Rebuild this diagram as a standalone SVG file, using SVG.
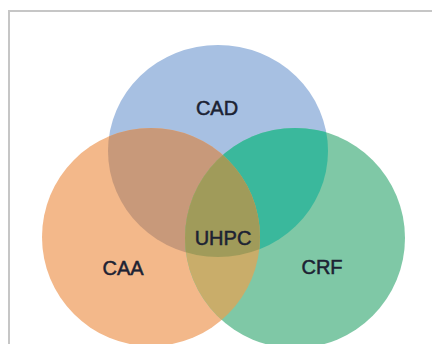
<svg xmlns="http://www.w3.org/2000/svg" width="432" height="344" viewBox="0 0 432 344">
<style>
.lbl{font-family:"Liberation Sans","Open Sans",Arial,sans-serif;font-size:20px;fill:#1c2233;stroke:#1c2233;stroke-width:0.5;text-anchor:middle}
</style>
<defs>
<clipPath id="cB"><ellipse cx="218" cy="151" rx="110" ry="106"/></clipPath>
<clipPath id="cO"><circle cx="151" cy="237" r="109"/></clipPath>
<clipPath id="cG"><circle cx="295" cy="238" r="110"/></clipPath>
</defs>
<rect width="432" height="344" fill="#fff"/>
<path d="M9,344 V11 H432" fill="none" stroke="#c6c6c6" stroke-width="2"/>
<g id="cad"><ellipse cx="218" cy="151" rx="110" ry="106" fill="#a7c0e2"/></g>
<g id="caa"><circle cx="151" cy="237" r="109" fill="#f3b88a"/></g>
<g id="crf"><circle cx="295" cy="238" r="110" fill="#7fc8a6"/></g>
<g id="overlaps">
<g clip-path="url(#cB)"><circle cx="151" cy="237" r="109" fill="#c8997a"/><circle cx="295" cy="238" r="110" fill="#3ab89c"/></g>
<g clip-path="url(#cO)"><circle cx="295" cy="238" r="110" fill="#c9ad6a"/></g>
<g clip-path="url(#cO)"><g clip-path="url(#cG)"><ellipse cx="218" cy="151" rx="110" ry="106" fill="#a09b5a"/></g></g>
</g>
<g id="labels">
<text class="lbl" x="217" y="115">CAD</text>
<text class="lbl" x="223" y="245">UHPC</text>
<text class="lbl" x="123" y="275">CAA</text>
<text class="lbl" x="322" y="274">CRF</text>
</g>
</svg>
